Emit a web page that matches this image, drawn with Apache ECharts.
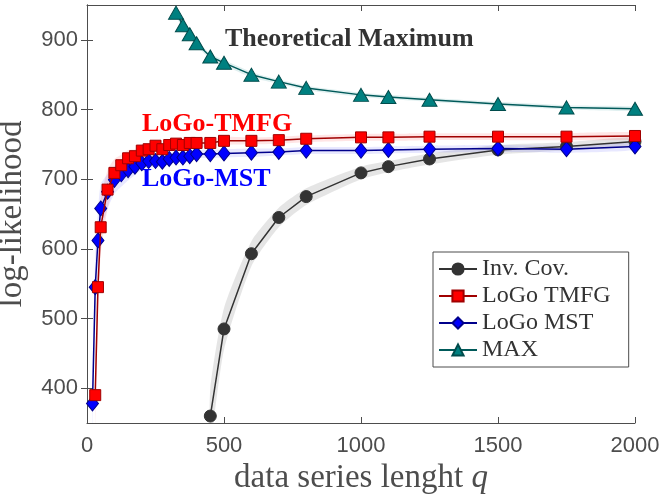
<!DOCTYPE html>
<html>
<head>
<meta charset="utf-8">
<script src="https://cdn.jsdelivr.net/npm/echarts@6/dist/echarts.min.js"></script>
<style>
  html, body { margin: 0; padding: 0; background: #fff; }
  #chart { width: 660px; height: 496px; }
</style>
</head>
<body>
<div id="chart"></div>
<script>
// data
var invQ = [450, 500, 600, 700, 800, 1000, 1100, 1250, 1500, 1750, 2000];
var invVal = [360, 485, 593, 645, 675, 709, 718, 729, 742, 747, 754];
var invSpread = [40, 30, 18, 14, 12, 9, 8, 8, 7, 6, 6];

var tmfgQ = [30, 40, 50, 75, 100, 125, 150, 175, 200, 225, 250, 275, 300, 325, 350, 375, 400, 450, 500, 600, 700, 800, 1000, 1100, 1250, 1500, 1750, 2000];
var tmfgVal = [390, 545, 631, 685, 709, 720, 730, 733, 741, 743, 748, 743, 749, 751, 749, 752, 752, 752, 755, 755, 756, 758, 760, 760, 761, 761, 761, 762];
var tmfgSpread = [45, 45, 40, 28, 20, 15, 12, 10, 9, 8, 8, 7, 7, 7, 6, 6, 6, 6, 6, 5, 5, 5, 5, 5, 5, 5, 5, 5];

var mstQ = [20, 30, 40, 50, 75, 100, 125, 150, 175, 200, 225, 250, 275, 300, 325, 350, 375, 400, 450, 500, 600, 700, 800, 1000, 1100, 1250, 1500, 1750, 2000];
var mstVal = [378, 545, 612, 658, 682, 699, 707, 713, 718, 723, 726, 726, 725, 729, 731, 731, 733, 736, 736, 737, 738, 739, 741, 741, 742, 743, 744, 743, 747];
var mstSpread = [40, 45, 42, 35, 25, 20, 18, 15, 12, 10, 9, 9, 8, 8, 7, 7, 7, 6, 6, 6, 6, 5, 5, 5, 5, 5, 5, 5, 5];

var maxQ = [325, 350, 375, 400, 450, 500, 600, 700, 800, 1000, 1100, 1250, 1500, 1750, 2000];
var maxVal = [939, 921, 908, 895, 876, 867, 850, 840, 831, 821, 818, 814, 808, 803, 801];
var maxSpread = [5, 5, 5, 4, 4, 4, 4, 3, 3, 3, 3, 3, 3, 3, 3];

var yTicks = [400, 500, 600, 700, 800, 900];
var xTicks = [0, 500, 1000, 1500, 2000];

function pairs(xs, ys) {
  return xs.map(function (x, i) { return [x, ys[i]]; });
}

// shaded band around a curve, drawn as one polygon through the axes
function band(xs, ys, spread, color) {
  return {
    type: 'custom',
    silent: true,
    clip: true,
    z: 1,
    data: [[xs[0], ys[0]]],
    renderItem: function (params, api) {
      var pts = [];
      for (var i = 0; i < xs.length; i++) pts.push(api.coord([xs[i], ys[i] + spread[i]]));
      for (var j = xs.length - 1; j >= 0; j--) pts.push(api.coord([xs[j], ys[j] - spread[j]]));
      return { type: 'polygon', shape: { points: pts, smooth: 0.2 }, style: { fill: color } };
    }
  };
}

var chart = echarts.init(document.getElementById('chart'));
var axisCol = '#4d4d4d';
var tickFont = { fontFamily: 'Liberation Sans', fontSize: 22, color: '#4d4d4d' };

var option = {
  animation: false,
  grid: { left: 87, right: 25, top: 5, bottom: 73, containLabel: false, outerBoundsMode: 'none' },
  xAxis: [
    {
      type: 'value', min: 0, max: 2000,
      axisLine: { lineStyle: { color: axisCol, width: 1 } },
      axisTick: { inside: true, length: 6, customValues: xTicks, lineStyle: { color: axisCol } },
      axisLabel: Object.assign({ margin: 12, customValues: xTicks, formatter: function (v) { return String(v); } }, tickFont),
      splitLine: { show: false },
      name: '{a|data series lenght }{b|q}',
      nameLocation: 'middle',
      nameGap: 33,
      nameTextStyle: {
        rich: {
          a: { fontFamily: 'Liberation Serif', fontSize: 33, color: '#4d4d4d' },
          b: { fontFamily: 'Liberation Serif', fontSize: 33, fontStyle: 'italic', color: '#4d4d4d' }
        }
      }
    },
    {
      type: 'value', min: 0, max: 2000, position: 'top',
      axisLine: { lineStyle: { color: axisCol, width: 1 } },
      axisTick: { inside: true, length: 6, customValues: xTicks, lineStyle: { color: axisCol } },
      axisLabel: { show: false },
      splitLine: { show: false }
    }
  ],
  yAxis: [
    {
      type: 'value', min: 350, max: 950,
      axisLine: { show: true, lineStyle: { color: axisCol, width: 1 } },
      axisTick: { show: true, inside: true, length: 6, customValues: yTicks, lineStyle: { color: axisCol } },
      axisLabel: Object.assign({ margin: 9, customValues: yTicks }, tickFont),
      splitLine: { show: false },
      name: 'log-likelihood',
      nameLocation: 'middle',
      nameMoveOverlap: false,
      nameGap: 58,
      nameTextStyle: { fontFamily: 'Liberation Serif', fontSize: 33, color: '#4d4d4d' }
    },
    {
      type: 'value', min: 350, max: 950, position: 'right',
      axisLine: { show: true, lineStyle: { color: axisCol, width: 1 } },
      axisTick: { show: true, inside: true, length: 6, customValues: yTicks, lineStyle: { color: axisCol } },
      axisLabel: { show: false },
      splitLine: { show: false }
    }
  ],
  legend: {
    orient: 'vertical',
    left: 433,
    top: 252,
    padding: [5, 18, 5, 5],
    itemGap: 3,
    itemWidth: 38,
    itemHeight: 14,
    borderColor: '#4d4d4d',
    borderWidth: 1,
    backgroundColor: '#fff',
    textStyle: { fontFamily: 'Liberation Serif', fontSize: 24, color: '#333', lineHeight: 22 },
    data: ['Inv. Cov.', 'LoGo TMFG', 'LoGo MST', 'MAX']
  },
  graphic: [
    { type: 'text', left: 225, top: 26, z: 100,
      style: { text: 'Theoretical Maximum', fontFamily: 'Liberation Serif', fontWeight: 'bold', fontSize: 26, fill: '#333' } },
    { type: 'text', left: 142, top: 111, z: 100,
      style: { text: 'LoGo-TMFG', fontFamily: 'Liberation Serif', fontWeight: 'bold', fontSize: 26, fill: '#ff0000' } },
    { type: 'text', left: 142, top: 166, z: 100,
      style: { text: 'LoGo-MST', fontFamily: 'Liberation Serif', fontWeight: 'bold', fontSize: 26, fill: '#0000ff' } }
  ],
  series: [
    band(invQ, invVal, invSpread, 'rgba(0,0,0,0.10)'),
    band(tmfgQ, tmfgVal, tmfgSpread, 'rgba(255,0,0,0.10)'),
    band(mstQ, mstVal, mstSpread, 'rgba(0,0,255,0.09)'),
    band(maxQ, maxVal, maxSpread, 'rgba(0,128,128,0.12)'),
    {
      name: 'Inv. Cov.', type: 'line', z: 3,
      data: pairs(invQ, invVal),
      symbol: 'circle', symbolSize: 12,
      lineStyle: { color: '#333', width: 1.5 },
      itemStyle: { color: '#333', borderColor: '#333', borderWidth: 1 }
    },
    {
      name: 'LoGo MST', type: 'line', z: 4,
      data: pairs(mstQ, mstVal),
      symbol: 'diamond', symbolSize: [12, 15],
      lineStyle: { color: '#00008b', width: 1.5 },
      itemStyle: { color: '#0000ff', borderColor: '#00008b', borderWidth: 1 }
    },
    {
      name: 'LoGo TMFG', type: 'line', z: 5,
      data: pairs(tmfgQ, tmfgVal),
      symbol: 'rect', symbolSize: 11,
      lineStyle: { color: '#a00000', width: 1.5 },
      itemStyle: { color: '#ff0000', borderColor: '#a00000', borderWidth: 1 }
    },
    {
      name: 'MAX', type: 'line', z: 6,
      data: pairs(maxQ, maxVal),
      symbol: 'triangle', symbolSize: [15, 13],
      lineStyle: { color: '#005a5a', width: 1.5 },
      itemStyle: { color: '#008080', borderColor: '#004c4c', borderWidth: 1 }
    }
  ]
};

chart.setOption(option);
window.addEventListener('resize', function () { chart.resize(); });
</script>
</body>
</html>
